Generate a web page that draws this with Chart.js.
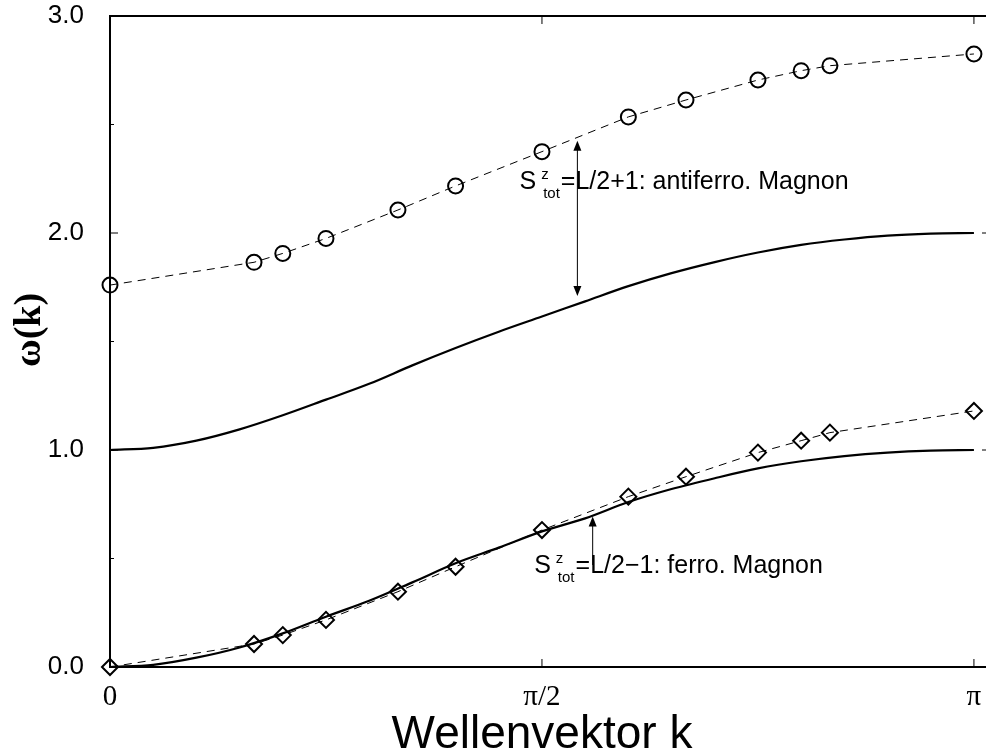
<!DOCTYPE html>
<html>
<head>
<meta charset="utf-8">
<script src="https://cdn.jsdelivr.net/npm/chart.js@4.4.1/dist/chart.umd.min.js"></script>
<style>
html, body { margin: 0; padding: 0; overflow: hidden; background: #fff; }
canvas { display: block; }
</style>
</head>
<body>
<canvas id="myChart" width="1000" height="754"></canvas>
<script>
// wave vector k in units of pi
const curveK = [0, 0.05, 0.1, 0.15, 0.2, 0.25, 0.3, 0.35, 0.4, 0.45, 0.5,
                0.55, 0.6, 0.65, 0.7, 0.75, 0.8, 0.85, 0.9, 0.95, 1.0]
const antiferroCurve = [1.0, 1.01, 1.043, 1.095, 1.16, 1.232, 1.305, 1.39, 1.47, 1.545, 1.615,
                        1.685, 1.755, 1.815, 1.866, 1.91, 1.945, 1.97, 1.988, 1.997, 2.0]
const ferroCurve = [0.0, 0.01, 0.043, 0.09, 0.155, 0.232, 0.305, 0.39, 0.478, 0.55, 0.625,
                    0.685, 0.76, 0.82, 0.87, 0.915, 0.948, 0.972, 0.988, 0.997, 1.0]

const pointK = [0, 0.1667, 0.2, 0.25, 0.3333, 0.4, 0.5, 0.6, 0.6667, 0.75, 0.8, 0.8333, 1.0]
const antiferroPoints = [1.76, 1.865, 1.906, 1.975, 2.106, 2.217, 2.375, 2.535, 2.613, 2.705, 2.748, 2.771, 2.825]
const ferroPoints = [0.0, 0.106, 0.147, 0.217, 0.347, 0.462, 0.631, 0.785, 0.877, 0.988, 1.043, 1.08, 1.18]

const xTicks = [0, 0.5, 1]
const xTickLabels = ['0', 'π/2', 'π']
const yTicks = [0, 1, 2, 3]
const yMinorTicks = [0.5, 1.5, 2.5]

// annotations (k in units of pi, omega)
const upperArrow = { k: 0.541, from: 2.425, to: 1.71 }
const lowerArrow = { k: 0.5587, from: 0.47, to: 0.693 }
const upperLabel = { k: 0.474, w: 2.203, text: '=L/2+1: antiferro. Magnon' }
const lowerLabel = { k: 0.491, w: 0.433, text: '=L/2\u22121: ferro. Magnon' }

const sans = '"Liberation Sans", Arial, Helvetica, sans-serif'
const serif = '"Liberation Serif", "Times New Roman", serif'

function toXY(xs, ys) {
    return xs.map((x, i) => ({ x: x, y: ys[i] }))
}

function arrowHead(ctx, x, y, dir) {
    ctx.beginPath()
    ctx.moveTo(x, y)
    ctx.lineTo(x - 4, y - dir * 10)
    ctx.lineTo(x + 4, y - dir * 10)
    ctx.closePath()
    ctx.fill()
}

function magnonLabel(ctx, x, y, rest) {
    ctx.textAlign = 'left'
    ctx.textBaseline = 'alphabetic'
    ctx.font = '25px ' + sans
    ctx.fillText('S', x, y)
    let sx = x + ctx.measureText('S').width
    ctx.font = '15px ' + sans
    ctx.fillText('z', sx + 5, y - 10)
    ctx.fillText('tot', sx + 7, y + 9)
    let nx = sx + 7 + ctx.measureText('tot').width + 1
    ctx.font = '25px ' + sans
    ctx.fillText(rest, nx, y)
}

const framePlugin = {
    id: 'frame',
    beforeDatasetsDraw(chart) {
        const ctx = chart.ctx
        const a = chart.chartArea
        const xs = chart.scales.x
        const ys = chart.scales.y
        ctx.save()
        ctx.strokeStyle = '#000'
        ctx.lineWidth = 2
        ctx.beginPath()
        ctx.moveTo(a.left, a.bottom)
        ctx.lineTo(a.left, a.top)
        ctx.lineTo(a.right, a.top)
        ctx.lineTo(a.right, a.bottom)
        ctx.closePath()
        ctx.stroke()
        ctx.lineWidth = 1
        ctx.beginPath()
        yTicks.forEach(v => {
            const py = ys.getPixelForValue(v)
            ctx.moveTo(a.left, py); ctx.lineTo(a.left + 8, py)
            ctx.moveTo(a.right, py); ctx.lineTo(a.right - 8, py)
        })
        yMinorTicks.forEach(v => {
            const py = ys.getPixelForValue(v)
            ctx.moveTo(a.left, py); ctx.lineTo(a.left + 4, py)
            ctx.moveTo(a.right, py); ctx.lineTo(a.right - 4, py)
        })
        xTicks.forEach(v => {
            const px = xs.getPixelForValue(v)
            ctx.moveTo(px, a.bottom); ctx.lineTo(px, a.bottom - 8)
            ctx.moveTo(px, a.top); ctx.lineTo(px, a.top + 8)
        })
        ctx.stroke()
        ctx.restore()
    },
    afterDatasetsDraw(chart) {
        const ctx = chart.ctx
        const xs = chart.scales.x
        const ys = chart.scales.y
        ctx.save()
        ctx.strokeStyle = '#000'
        ctx.fillStyle = '#000'
        ctx.lineWidth = 1

        // double arrow between the two antiferro curves
        let ax = xs.getPixelForValue(upperArrow.k)
        let y1 = ys.getPixelForValue(upperArrow.from)
        let y2 = ys.getPixelForValue(upperArrow.to)
        ctx.beginPath()
        ctx.moveTo(ax, y1 + 6); ctx.lineTo(ax, y2 - 6)
        ctx.stroke()
        arrowHead(ctx, ax, y1, -1)
        arrowHead(ctx, ax, y2, 1)

        // single arrow for ferro magnon
        ax = xs.getPixelForValue(lowerArrow.k)
        y1 = ys.getPixelForValue(lowerArrow.from)
        y2 = ys.getPixelForValue(lowerArrow.to)
        ctx.beginPath()
        ctx.moveTo(ax, y1); ctx.lineTo(ax, y2 + 6)
        ctx.stroke()
        arrowHead(ctx, ax, y2, -1)

        magnonLabel(ctx, xs.getPixelForValue(upperLabel.k), ys.getPixelForValue(upperLabel.w), upperLabel.text)
        magnonLabel(ctx, xs.getPixelForValue(lowerLabel.k), ys.getPixelForValue(lowerLabel.w), lowerLabel.text)
        ctx.restore()
    },
    afterDraw(chart) {
        const ctx = chart.ctx
        const xs = chart.scales.x
        ctx.save()
        ctx.fillStyle = '#000'
        ctx.textAlign = 'center'
        ctx.textBaseline = 'alphabetic'
        ctx.font = '46px ' + sans
        ctx.fillText('Wellenvektor k', xs.getPixelForValue(0.5), 748)
        ctx.translate(30, 330)
        ctx.rotate(-Math.PI / 2)
        ctx.textBaseline = 'middle'
        ctx.font = 'bold 38px ' + serif
        ctx.fillText('\u03c9(k)', 0, 0)
        ctx.restore()
    }
}

const ctx = document.getElementById('myChart')
let myChart = new Chart(ctx, {
    type: 'line',
    data: {
        datasets: [{
            data: toXY(curveK, antiferroCurve),
            borderColor: '#000',
            borderWidth: 2.2,
            pointRadius: 0,
            cubicInterpolationMode: 'monotone'
        }, {
            data: toXY(curveK, ferroCurve),
            borderColor: '#000',
            borderWidth: 2.2,
            pointRadius: 0,
            cubicInterpolationMode: 'monotone'
        }, {
            data: toXY(pointK, antiferroPoints),
            borderColor: '#000',
            borderWidth: 1,
            borderDash: [8, 6],
            pointStyle: 'circle',
            pointRadius: 7.5,
            pointBorderWidth: 2,
            pointBorderColor: '#000',
            pointBackgroundColor: 'rgba(0,0,0,0)',
            clip: false
        }, {
            data: toXY(pointK, ferroPoints),
            borderColor: '#000',
            borderWidth: 1,
            borderDash: [8, 6],
            pointStyle: 'rectRot',
            pointRadius: 8,
            pointBorderWidth: 2,
            pointBorderColor: '#000',
            pointBackgroundColor: 'rgba(0,0,0,0)',
            clip: false
        }]
    },
    options: {
        responsive: false,
        animation: false,
        layout: { padding: { top: 16, right: 9, left: 0, bottom: 0 } },
        plugins: {
            legend: { display: false },
            tooltip: { enabled: false }
        },
        scales: {
            x: {
                type: 'linear',
                min: 0,
                max: 1.0186,
                grid: { display: false },
                border: { display: false },
                afterBuildTicks: (s) => { s.ticks = xTicks.map(v => ({ value: v })) },
                afterFit: (s) => { s.height = 87; s.paddingLeft = 0; s.paddingRight = 0 },
                ticks: {
                    callback: (v) => xTickLabels[xTicks.indexOf(v)],
                    font: { family: serif, size: 29 },
                    color: '#000',
                    padding: 5,
                    maxRotation: 0,
                    autoSkip: false
                }
            },
            y: {
                min: 0,
                max: 3,
                grid: { display: false },
                border: { display: false },
                afterBuildTicks: (s) => { s.ticks = yTicks.map(v => ({ value: v })) },
                afterFit: (s) => { s.width = 110; s.paddingTop = 0; s.paddingBottom = 0 },
                ticks: {
                    callback: (v) => v.toFixed(1),
                    font: { family: sans, size: 26 },
                    color: '#000',
                    padding: 18
                }
            }
        }
    },
    plugins: [framePlugin]
})
</script>
</body>
</html>
